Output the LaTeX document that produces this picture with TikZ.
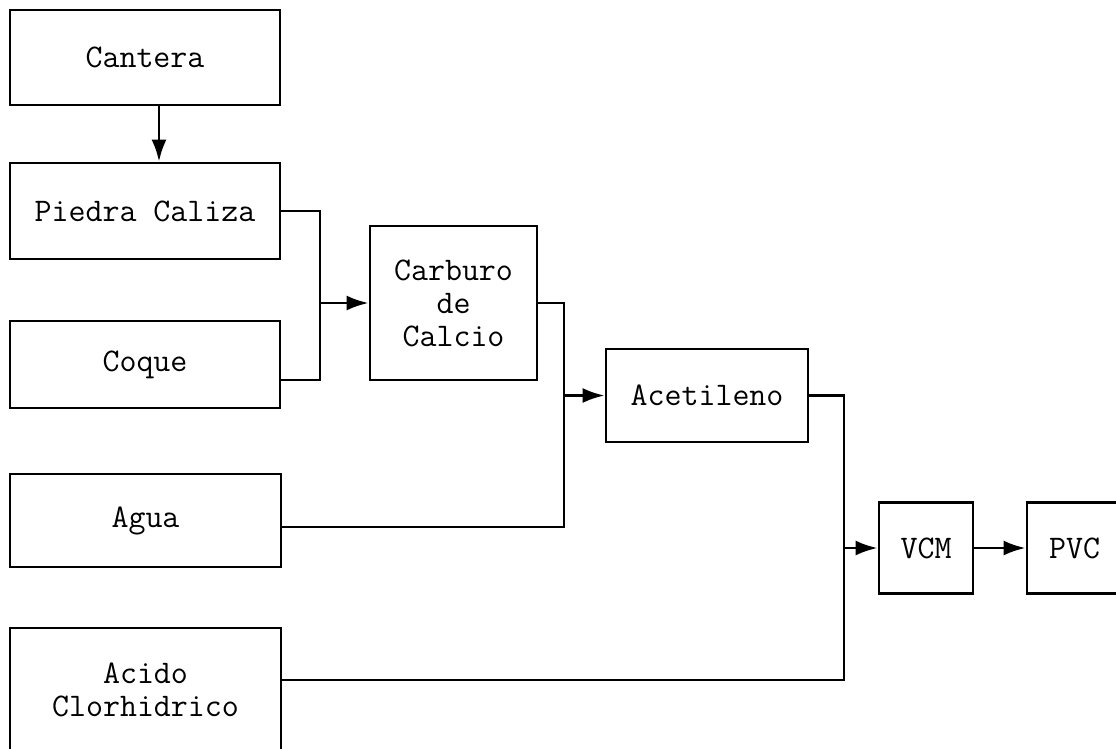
\documentclass[tikz,border=0pt]{standalone}
\usepackage{fontspec}
\usetikzlibrary{arrows.meta}
\begin{document}
\begin{tikzpicture}[x=1pt,y=-1pt,
  box/.style={draw, line width=2.8pt, inner sep=0pt, align=center,
    font=\ttfamily\fontsize{33}{33}\selectfont},
  flow/.style={line width=2.8pt, -{Latex[length=22pt,width=15pt]}},
  link/.style={line width=2.8pt}]
\useasboundingbox (0,0) rectangle (1116,748);
\clip (0,0) rectangle (1116,748);
\node[box, minimum width=270pt, minimum height=95pt] (cantera) at (145,57.5) {Cantera};
\node[box, minimum width=270pt, minimum height=96pt] (piedra) at (145,211) {Piedra Caliza};
\node[box, minimum width=270pt, minimum height=87pt] (coque) at (145,364.5) {Coque};
\node[box, minimum width=271pt, minimum height=93pt] (agua) at (145.5,520.5) {Agua};
\node[box, minimum width=271pt, minimum height=124pt] (acido) at (145.5,690) {Acido\\Clorhidrico};
\node[box, minimum width=167pt, minimum height=154pt] (carburo) at (453.5,303) {Carburo\\de\\Calcio};
\node[box, minimum width=202pt, minimum height=93pt] (acetileno) at (707,395.5) {Acetileno};
\node[box, minimum width=94pt, minimum height=91pt] (vcm) at (926,548) {VCM};
\node[box, minimum width=95pt, minimum height=91pt] (pvc) at (1074.5,548) {PVC};
\coordinate (c1) at (320,380);
\coordinate (c2) at (564,527);
\coordinate (c3) at (844,680);
\draw[flow] ([xshift=14pt]cantera.south) -- ([xshift=14pt]piedra.north);
\draw[link] (piedra.east) -| (c1) -- (coque.east |- c1);
\draw[flow] (carburo.west -| c1) -- (carburo.west);
\draw[link] (carburo.east) -| (c2) -- (agua.east |- c2);
\draw[flow] (acetileno.west -| c2) -- (acetileno.west);
\draw[link] (acetileno.east) -| (c3) -- (acido.east |- c3);
\draw[flow] (vcm.west -| c3) -- (vcm.west);
\draw[flow] (vcm.east) -- (pvc.west);
\end{tikzpicture}
\end{document}
